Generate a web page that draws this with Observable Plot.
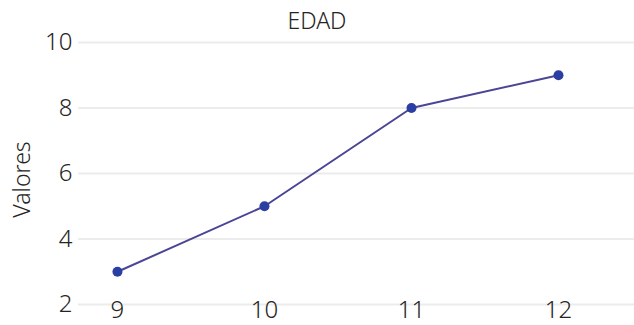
<!DOCTYPE html>
<html>
<head>
<meta charset="utf-8">
<script src="https://cdn.jsdelivr.net/npm/d3@7"></script>
<script src="https://cdn.jsdelivr.net/npm/@observablehq/plot@0.6"></script>
<style>
  html, body { margin: 0; padding: 0; background: #fff; }
  #wrap { position: relative; width: 634px; height: 325px; }
  #title { position: absolute; left: 0; top: 5px; width: 634px; text-align: center;
           font-family: "Noto Sans", sans-serif; font-weight: 300; font-size: 23px; line-height: 30px; color: #252423; }
  svg text { font-weight: 300; }
</style>
</head>
<body>
<div id="wrap"><div id="title"></div></div>
<script>
const title = "EDAD";
const edad = [9, 10, 11, 12];
const valores = [3, 5, 8, 9];
const xTicks = [9, 10, 11, 12];
const yTicks = [2, 4, 6, 8, 10];
const yLabel = "Valores";

const data = edad.map((e, i) => ({edad: e, valor: valores[i]}));

document.getElementById("title").textContent = title;

const chart = Plot.plot({
  width: 634,
  height: 325,
  marginLeft: 78,
  marginRight: 0,
  marginTop: 42,
  marginBottom: 21,
  style: {fontFamily: "Noto Sans, sans-serif", fontSize: "24px", color: "#252423", background: "transparent"},
  x: {domain: [8.735, 12.517]},
  y: {domain: [2, 10]},
  marks: [
    Plot.gridY(yTicks, {stroke: "#ececec", strokeOpacity: 1, strokeWidth: 2}),
    Plot.axisY(yTicks, {tickSize: 0, tickPadding: 6, label: null, fontSize: 24, tickFormat: d3.format("d")}),
    Plot.axisX(xTicks, {tickSize: 0, tickPadding: -4, label: null, fontSize: 24, tickFormat: d3.format("d")}),
    Plot.text([yLabel], {frameAnchor: "left", textAnchor: "middle", rotate: -90, dx: -56, dy: 6, fontSize: 23, fill: "#252423"}),
    Plot.line(data, {x: "edad", y: "valor", stroke: "#4a4594", strokeWidth: 2}),
    Plot.dot(data, {x: "edad", y: "valor", r: 5, fill: "#2b3fa3", stroke: "none"})
  ]
});
document.getElementById("wrap").prepend(chart);
</script>
</body>
</html>
